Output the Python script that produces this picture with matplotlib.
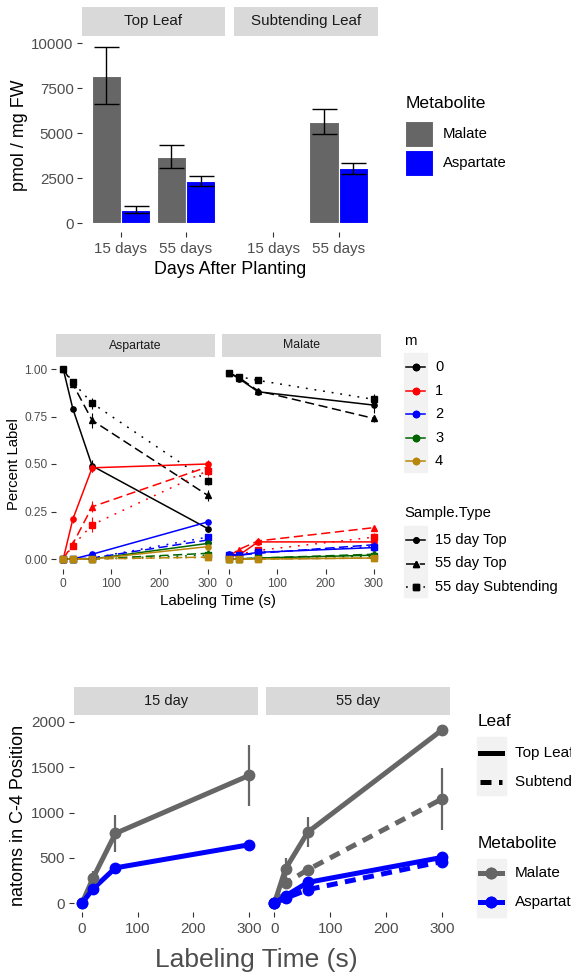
import numpy as np
import matplotlib.pyplot as plt
from matplotlib.lines import Line2D
from matplotlib.patches import Rectangle

plt.rcParams['font.family'] = ['Liberation Sans', 'DejaVu Sans']

W, H = 571, 976

# top chart: pool sizes (pmol / mg FW)
leaves = ['Top Leaf', 'Subtending Leaf']
days = ['15 days', '55 days']
malate_pool = [[8200, 3700], [np.nan, 5650]]
malate_pool_err = [[1600, 620], [np.nan, 720]]
asp_pool = [[760, 2350], [np.nan, 3050]]
asp_pool_err = [[170, 260], [np.nan, 310]]

# middle chart: fraction of each isotopologue m0..m4
times = [0, 20, 60, 300]
m_levels = ['0', '1', '2', '3', '4']
sample_types = ['15 day Top', '55 day Top', '55 day Subtending']
asp_15top = [[1.00, 0.79, 0.49, 0.16],
             [0.00, 0.21, 0.48, 0.50],
             [0.00, 0.00, 0.025, 0.195],
             [0.00, 0.00, 0.00, 0.082],
             [0.00, 0.00, 0.00, 0.065]]
asp_55top = [[1.00, 0.92, 0.73, 0.335],
             [0.00, 0.08, 0.275, 0.485],
             [0.00, 0.00, 0.005, 0.10],
             [0.00, 0.00, 0.00, 0.03],
             [0.00, 0.00, 0.00, 0.01]]
asp_55sub = [[1.00, 0.93, 0.82, 0.41],
             [0.00, 0.07, 0.18, 0.465],
             [0.00, 0.00, 0.005, 0.115],
             [0.00, 0.00, 0.00, 0.02],
             [0.00, 0.00, 0.00, 0.008]]
mal_15top = [[0.98, 0.95, 0.88, 0.81],
             [0.015, 0.02, 0.09, 0.09],
             [0.025, 0.02, 0.035, 0.06],
             [0.00, 0.00, 0.005, 0.02],
             [0.00, 0.00, 0.00, 0.005]]
mal_55top = [[0.98, 0.955, 0.885, 0.74],
             [0.015, 0.05, 0.095, 0.165],
             [0.02, 0.02, 0.03, 0.075],
             [0.00, 0.00, 0.005, 0.025],
             [0.00, 0.00, 0.00, 0.005]]
mal_55sub = [[0.98, 0.96, 0.94, 0.84],
             [0.01, 0.025, 0.045, 0.115],
             [0.02, 0.02, 0.035, 0.065],
             [0.00, 0.00, 0.005, 0.015],
             [0.00, 0.00, 0.00, 0.005]]
# error bars only visible for m0 and m1
asp_15top_err = [[0, 0.01, 0.03, 0.02], [0, 0.02, 0.02, 0.02]]
asp_55top_err = [[0, 0.01, 0.04, 0.03], [0, 0.02, 0.03, 0.03]]
asp_55sub_err = [[0, 0.01, 0.03, 0.02], [0, 0.01, 0.04, 0.03]]
mal_15top_err = [[0, 0.01, 0.01, 0.04], [0, 0.005, 0.01, 0.01]]
mal_55top_err = [[0, 0.01, 0.01, 0.02], [0, 0.005, 0.01, 0.01]]
mal_55sub_err = [[0, 0.005, 0.01, 0.03], [0, 0.005, 0.01, 0.02]]

# bottom chart: natoms in C-4 position
c4_times = [0, 20, 60, 300]
mal_c4_15top = [0, 280, 770, 1410]
mal_c4_15top_err = [0, 70, 200, 335]
asp_c4_15top = [0, 160, 390, 645]
asp_c4_15top_err = [0, 20, 30, 25]
mal_c4_55top = [0, 380, 785, 1910]
mal_c4_55top_err = [0, 120, 165, 25]
mal_c4_55sub = [0, 220, 370, 1150]
mal_c4_55sub_err = [0, 50, 30, 340]
asp_c4_55top = [0, 80, 230, 505]
asp_c4_55top_err = [0, 30, 40, 25]
asp_c4_55sub = [0, 55, 150, 460]
asp_c4_55sub_err = [0, 20, 40, 40]

GREY = '#666666'
m_colors = ['black', 'red', 'blue', 'darkgreen', 'darkgoldenrod']

fig = plt.figure(figsize=(W / 100, H / 100), dpi=100)


def fx(x):
    return x / W


def fy(y):
    return 1 - y / H


def add_ax(l, t, r, b):
    return fig.add_axes([fx(l), fy(b), (r - l) / W, (b - t) / H])


def strip(l, t, r, b, label, size):
    s = add_ax(l, t, r, b)
    s.set_facecolor('#D9D9D9')
    s.set_xticks([])
    s.set_yticks([])
    for sp in s.spines.values():
        sp.set_visible(False)
    s.text(0.5, 0.5, label, ha='center', va='center', fontsize=size, color='#1A1A1A',
           transform=s.transAxes)


def style(ax, size, left=True):
    for sp in ax.spines.values():
        sp.set_visible(False)
    ax.set_facecolor('none')
    ax.tick_params(colors='#333333', labelcolor='#4D4D4D', length=3.5, width=0.8,
                   labelsize=size, pad=2.5)
    if not left:
        ax.tick_params(axis='y', left=False, labelleft=False)


def expand(lo, hi, f=0.05):
    d = (hi - lo) * f
    return lo - d, hi + d


def ftext(x, y, s, size, **kw):
    fig.text(fx(x), fy(y), s, fontsize=size, va='center', **kw)


def key_line(x1, x2, y, **kw):
    fig.add_artist(Line2D([fx(x1), fx(x2)], [fy(y), fy(y)], transform=fig.transFigure, **kw))


def key_bg(l, t, r, b):
    fig.add_artist(Rectangle((fx(l), fy(b)), (r - l) / W, (b - t) / H,
                             transform=fig.transFigure, color='#F2F2F2', zorder=0))


# ---------------- top chart ----------------
tops = np.array(malate_pool) + np.array(malate_pool_err)
ylim1 = expand(0, np.nanmax(tops))
xpos = np.arange(1, len(days) + 1)
for i, (l, r) in enumerate([(82, 225), (234, 378)]):
    strip(l, 7, r, 36, leaves[i], 10.9)
    ax = add_ax(l, 38, r, 232)
    ax.bar(xpos - 0.225, malate_pool[i], 0.45, color=GREY, edgecolor='white', linewidth=0.8)
    ax.bar(xpos + 0.225, asp_pool[i], 0.45, color='blue', edgecolor='white', linewidth=0.8)
    ax.errorbar(xpos - 0.225, malate_pool[i], yerr=malate_pool_err[i], fmt='none',
                ecolor='black', elinewidth=1, capsize=9, capthick=1)
    ax.errorbar(xpos + 0.225, asp_pool[i], yerr=asp_pool_err[i], fmt='none',
                ecolor='black', elinewidth=1, capsize=9, capthick=1)
    ax.set_xlim(0.4, 2.6)
    ax.set_ylim(*ylim1)
    ax.set_xticks(xpos, days)
    ax.set_yticks([0, 2500, 5000, 7500, 10000])
    style(ax, 10.9, left=(i == 0))
    ax.tick_params(axis='x', pad=4)

fig.text(fx(20), fy(135), 'pmol / mg FW', fontsize=12.9, rotation=90, ha='center', va='center')
ftext(230, 269, 'Days After Planting', 12.9, ha='center')
ftext(405.5, 103, 'Metabolite', 12.6)
for j, (lab, col) in enumerate([('Malate', GREY), ('Aspartate', 'blue')]):
    t = 121 + j * 29
    fig.add_artist(Rectangle((fx(405.5), fy(t + 26)), 27.3 / W, 26 / H, transform=fig.transFigure,
                             facecolor=col, edgecolor='white', linewidth=0.8))
    ftext(442.6, t + 13, lab, 10.7)

# ---------------- middle chart ----------------
ls_types = ['-', (0, (6, 3)), (0, (1.2, 4.5))]
mk_types = [('o', 3.8), ('^', 5), ('s', 4.8)]
panels2 = [('Aspartate', 56, 215, [asp_15top, asp_55top, asp_55sub],
            [asp_15top_err, asp_55top_err, asp_55sub_err]),
           ('Malate', 222, 381, [mal_15top, mal_55top, mal_55sub],
            [mal_15top_err, mal_55top_err, mal_55sub_err])]
for i, (name, l, r, sets, errs) in enumerate(panels2):
    strip(l, 334, r, 357, name, 8.8)
    ax = add_ax(l, 359.5, r, 568.5)
    for mi in range(len(m_levels)):
        for si in range(len(sample_types)):
            ax.plot(times, sets[si][mi], color=m_colors[mi], ls=ls_types[si], lw=1.1, zorder=2)
    for mi in range(len(m_levels)):
        for si in range(len(sample_types)):
            ax.plot(times, sets[si][mi], ls='none', marker=mk_types[si][0], ms=mk_types[si][1],
                    color=m_colors[mi], zorder=3)
            if mi < 2:
                ax.errorbar(times, sets[si][mi], yerr=errs[si][mi], fmt='none',
                            ecolor=m_colors[mi], elinewidth=0.8, zorder=3)
    ax.set_xlim(*expand(0, 300))
    ax.set_ylim(*expand(0, 1))
    ax.set_xticks([0, 100, 200, 300])
    ax.set_yticks([0, 0.25, 0.5, 0.75, 1.0], ['0.00', '0.25', '0.50', '0.75', '1.00'])
    style(ax, 8.6, left=(i == 0))
    ax.tick_params(axis='x', pad=3.5)

fig.text(fx(14), fy(464), 'Percent Label', fontsize=10.7, rotation=90, ha='center', va='center')
ftext(218.5, 601, 'Labeling Time (s)', 10.9, ha='center')

ftext(404, 341, 'm', 10.7)
key_bg(404, 353, 427, 472)
for mi, lab in enumerate(m_levels):
    y = 367 + mi * 23.6
    key_line(406, 425, y, color=m_colors[mi], lw=1.1)
    key_line(415.5, 415.5, y, color=m_colors[mi], marker='o', ms=4.5, ls='none')
    ftext(435, y, lab, 10.5)
ftext(404, 513, 'Sample.Type', 10.7)
key_bg(404, 526, 427, 597)
for si, lab in enumerate(sample_types):
    y = 540 + si * 23.5
    key_line(406, 425, y, color='black', lw=1.1, ls=ls_types[si])
    key_line(415.5, 415.5, y, color='black', marker=mk_types[si][0], ms=mk_types[si][1], ls='none')
    ftext(435, y, lab, 10.5)

# ---------------- bottom chart ----------------
all_hi = max(np.max(np.add(mal_c4_15top, mal_c4_15top_err)), np.max(np.add(mal_c4_55top, mal_c4_55top_err)),
             np.max(np.add(mal_c4_55sub, mal_c4_55sub_err)))
ylim3 = expand(0, all_hi)
dash3 = (0, (2.2, 1.5))
panels3 = [('15 day', 73.6, 257.6,
            [(mal_c4_15top, mal_c4_15top_err, GREY, '-'),
             (asp_c4_15top, asp_c4_15top_err, 'blue', '-')]),
           ('55 day', 266, 450.3,
            [(mal_c4_55top, mal_c4_55top_err, GREY, '-'),
             (mal_c4_55sub, mal_c4_55sub_err, GREY, dash3),
             (asp_c4_55top, asp_c4_55top_err, 'blue', '-'),
             (asp_c4_55sub, asp_c4_55sub_err, 'blue', dash3)])]
for i, (name, l, r, series) in enumerate(panels3):
    strip(l, 687, r, 715, name, 10.5)
    ax = add_ax(l, 719, r, 912)
    for vals, err, col, ls in series:
        ax.plot(c4_times, vals, color=col, ls=ls, lw=3.6, zorder=2)
    for vals, err, col, ls in series:
        ax.errorbar(c4_times, vals, yerr=err, fmt='o', color=col, ms=7.5, elinewidth=1.6, zorder=3)
    ax.set_xlim(*expand(0, 300))
    ax.set_ylim(*ylim3)
    ax.set_xticks([0, 100, 200, 300])
    ax.set_yticks([0, 500, 1000, 1500, 2000])
    style(ax, 11, left=(i == 0))
    ax.tick_params(axis='x', pad=4)

fig.text(fx(19), fy(815), 'natoms in C-4 Position', fontsize=13, rotation=90, ha='center', va='center')
ftext(256, 960, 'Labeling Time (s)', 19, ha='center', color='#4D4D4D')

# legend labels run off the right edge, as in the original figure
ftext(478, 722, 'Leaf', 12.4)
key_bg(477, 737, 506, 795)
for j, (lab, ls) in enumerate([('Top Leaf', '-'), ('Subtending Leaf', dash3)]):
    y = 753 + j * 29
    key_line(480, 502, y, color='black', lw=3.6, ls=ls)
    ftext(515, y, lab, 11)
ftext(478, 843, 'Metabolite', 12.4)
key_bg(477, 859, 506, 917)
for j, (lab, col) in enumerate([('Malate', GREY), ('Aspartate', 'blue')]):
    y = 873 + j * 29
    key_line(480, 502, y, color=col, lw=3.6)
    key_line(491, 491, y, color=col, marker='o', ms=7.5, ls='none')
    ftext(515, y, lab, 11)

fig.savefig('out.png', dpi=100)
